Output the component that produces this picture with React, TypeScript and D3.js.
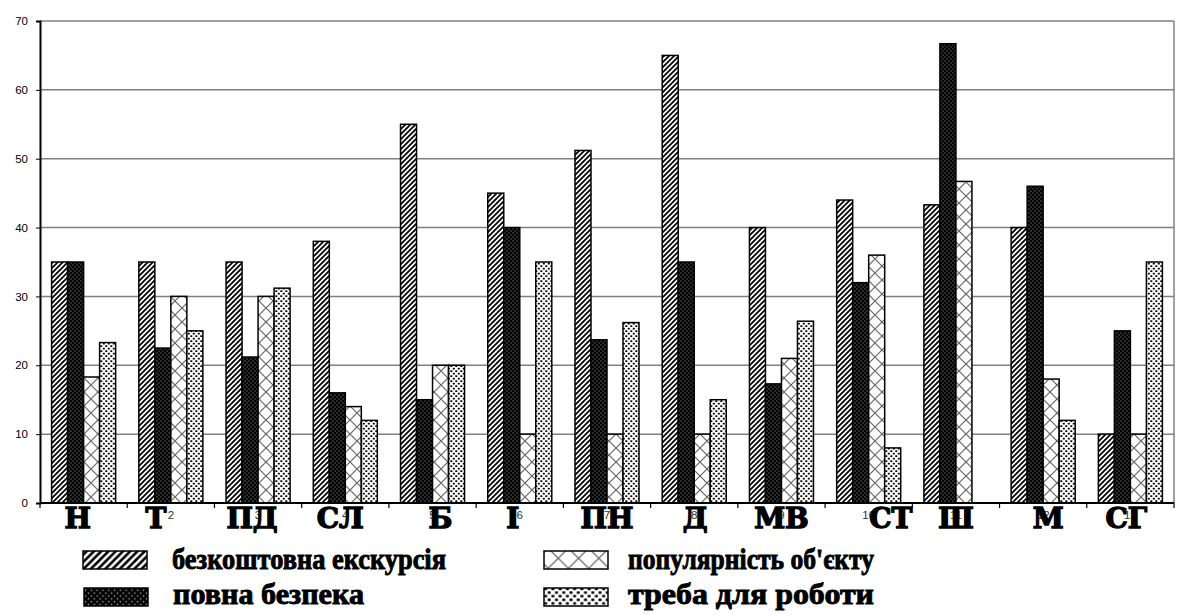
import React, { useEffect, useRef } from 'react';
import * as d3 from 'd3';

// Data
const categories = ['Н', 'Т', 'ПД', 'СЛ', 'Б', 'І', 'ПН', 'Д', 'МВ', 'СТ', 'Ш', 'М', 'СГ'];
const categoryNumbers = ['1', '2', '3', '4', '5', '6', '7', '8', '9', '10', '11', '12', '13'];
const seriesNames = ['безкоштовна екскурсія', 'повна безпека', "популярність об'єкту", 'треба для роботи'];
const freeTour = [35, 35, 35, 38, 55, 45, 51.2, 65, 40, 44, 43.3, 40, 10];
const fullSafety = [35, 22.5, 21.2, 16, 15, 40, 23.7, 35, 17.3, 32, 66.7, 46, 25];
const popularity = [18.3, 30, 30, 14, 20, 10, 10, 10, 21, 36, 46.7, 18, 10];
const neededForWork = [23.3, 25, 31.2, 12, 20, 35, 26.2, 15, 26.4, 8, 0, 12, 35];
const yTicks = [0, 10, 20, 30, 40, 50, 60, 70];

// small hand nudges for the big category letters (layout only)
const labelNudge = [-6, -15, -6, -5, 8, -7, 0, 1, 0, 22, 0, 5, -4];

const W = 1181;
const H = 615;
const SANS = '"Liberation Sans", Arial, sans-serif';
const SERIF = '"Liberation Serif", "Times New Roman", serif';
const WIDE_SERIF = '"DejaVu Serif", serif';

function App() {
    const svgRef = useRef<SVGSVGElement>(null);

    useEffect(() => {
        const series = [freeTour, fullSafety, popularity, neededForWork];
        const patternIds = ['p-stripe', 'p-dark', 'p-cross', 'p-confetti'];
        const legendPatternIds = ['l-stripe', 'l-dark', 'l-cross', 'l-confetti'];

        const root = d3.select(svgRef.current);
        root.selectAll('*').remove();
        root.attr('width', W).attr('height', H);

        const margin = { top: 21, right: 7, bottom: 112, left: 40 };
        const x0 = margin.left;
        const x1 = W - margin.right;
        const yTop = margin.top;
        const yBottom = H - margin.bottom;

        // Patterns
        const defs = root.append('defs');
        const makePatterns = (ids: string[], k: number) => {
            const s = defs.append('pattern').attr('id', ids[0])
                .attr('patternUnits', 'userSpaceOnUse').attr('width', 5 * k).attr('height', 5 * k);
            s.append('rect').attr('width', 5 * k).attr('height', 5 * k).attr('fill', '#fff');
            s.append('path').attr('d', `M${-1 * k},${1 * k} l${2 * k},${-2 * k} M0,${5 * k} l${5 * k},${-5 * k} M${4 * k},${6 * k} l${2 * k},${-2 * k}`)
                .attr('stroke', '#000').attr('stroke-width', 1.8 * k);

            const d = defs.append('pattern').attr('id', ids[1])
                .attr('patternUnits', 'userSpaceOnUse').attr('width', 4 * k).attr('height', 4 * k);
            d.append('rect').attr('width', 4 * k).attr('height', 4 * k).attr('fill', '#000');
            d.append('rect').attr('x', 0.5 * k).attr('y', 0.5 * k).attr('width', 1 * k).attr('height', 1 * k).attr('fill', '#aaa');
            d.append('rect').attr('x', 2.5 * k).attr('y', 2.5 * k).attr('width', 1 * k).attr('height', 1 * k).attr('fill', '#aaa');

            const cs = 14 * k;
            const c = defs.append('pattern').attr('id', ids[2])
                .attr('patternUnits', 'userSpaceOnUse').attr('width', cs).attr('height', cs);
            c.append('rect').attr('width', cs).attr('height', cs).attr('fill', '#fff');
            c.append('path').attr('d', `M0,0 L${cs},${cs} M${cs},0 L0,${cs}`)
                .attr('stroke', '#666').attr('stroke-width', 1.2);

            const f = defs.append('pattern').attr('id', ids[3])
                .attr('patternUnits', 'userSpaceOnUse').attr('width', 5 * k).attr('height', 5 * k);
            f.append('rect').attr('width', 5 * k).attr('height', 5 * k).attr('fill', '#fff');
            f.append('rect').attr('x', 0.3 * k).attr('y', 0.3 * k).attr('width', 2 * k).attr('height', 1.7 * k).attr('fill', '#000');
            f.append('rect').attr('x', 2.8 * k).attr('y', 2.8 * k).attr('width', 2 * k).attr('height', 1.7 * k).attr('fill', '#000');
        };
        makePatterns(patternIds, 1);
        makePatterns(legendPatternIds, 1.45);

        // Scales
        const x = d3.scaleBand<string>()
            .domain(categories)
            .range([x0, x1]);
        const groupW = x.bandwidth() * 0.734;
        const xs = d3.scaleBand<number>()
            .domain(d3.range(series.length))
            .range([(x.bandwidth() - groupW) / 2, (x.bandwidth() + groupW) / 2]);
        const y = d3.scaleLinear()
            .domain([0, 70])
            .range([yBottom, yTop]);

        // Grid lines
        root.append('g')
            .selectAll('line')
            .data(yTicks.filter(t => t > 0))
            .join('line')
            .attr('x1', x0).attr('x2', x1)
            .attr('y1', d => y(d)).attr('y2', d => y(d))
            .attr('stroke', '#808080').attr('stroke-width', 1.5);
        root.append('line')
            .attr('x1', x1).attr('x2', x1).attr('y1', yTop).attr('y2', yBottom)
            .attr('stroke', '#808080').attr('stroke-width', 1.5);

        // Bars
        const barData = categories.flatMap((c, i) =>
            series.map((s, j) => ({ c, j, v: s[i] })).filter(d => d.v > 0));
        root.append('g')
            .selectAll('rect')
            .data(barData)
            .join('rect')
            .attr('x', d => (x(d.c) as number) + (xs(d.j) as number))
            .attr('y', d => y(d.v))
            .attr('width', xs.bandwidth())
            .attr('height', d => y(0) - y(d.v))
            .attr('fill', d => `url(#${patternIds[d.j]})`)
            .attr('stroke', '#000')
            .attr('stroke-width', 1.5);

        // Y axis
        const yAxis = root.append('g')
            .attr('transform', `translate(${x0},0)`)
            .call(d3.axisLeft(y).tickValues(yTicks).tickSize(4).tickPadding(8));
        yAxis.select('.domain').attr('stroke', '#000').attr('stroke-width', 2);
        yAxis.selectAll('.tick line').attr('stroke', '#000');
        yAxis.selectAll('text')
            .style('font-family', SANS)
            .style('font-size', '11.5px')
            .attr('fill', '#000');

        // X axis line and ticks between categories
        root.append('line')
            .attr('x1', x0).attr('x2', x1).attr('y1', yBottom).attr('y2', yBottom)
            .attr('stroke', '#000').attr('stroke-width', 2);
        root.append('g')
            .selectAll('line')
            .data(d3.range(categories.length + 1))
            .join('line')
            .attr('x1', i => x0 + i * x.step()).attr('x2', i => x0 + i * x.step())
            .attr('y1', yBottom).attr('y2', yBottom + 5)
            .attr('stroke', '#000').attr('stroke-width', 1.2);

        // Small category numbers
        root.append('g')
            .selectAll('text')
            .data(categoryNumbers)
            .join('text')
            .attr('x', (d, i) => (x(categories[i]) as number) + x.bandwidth() / 2)
            .attr('y', yBottom + 16)
            .attr('text-anchor', 'middle')
            .style('font-family', SANS)
            .style('font-size', '11.5px')
            .attr('fill', '#333')
            .text(d => d);

        // Big category letters
        root.append('g')
            .selectAll('text')
            .data(categories)
            .join('text')
            .attr('x', (d, i) => (x(d) as number) + x.bandwidth() / 2 + labelNudge[i])
            .attr('y', yBottom + 25)
            .attr('text-anchor', 'middle')
            .style('font-family', WIDE_SERIF)
            .style('font-weight', 'bold')
            .style('font-size', '28px')
            .attr('fill', '#000')
            .attr('stroke', '#000')
            .attr('stroke-width', 1.4)
            .text(d => d);

        // Legend
        const legendItems = [
            { i: 0, sx: 83, sy: 551, tx: 172, ty: 569, tl: 274 },
            { i: 1, sx: 84, sy: 588, tx: 173, ty: 604, tl: 191 },
            { i: 2, sx: 544, sy: 551, tx: 628, ty: 569, tl: 246 },
            { i: 3, sx: 544, sy: 588, tx: 628, ty: 604, tl: 246 },
        ];
        const legend = root.append('g');
        legendItems.forEach(it => {
            legend.append('rect')
                .attr('x', it.sx).attr('y', it.sy)
                .attr('width', 64).attr('height', 18)
                .attr('fill', `url(#${legendPatternIds[it.i]})`)
                .attr('stroke', '#000').attr('stroke-width', 1.5);
            legend.append('text')
                .attr('x', it.tx).attr('y', it.ty)
                .style('font-family', SERIF)
                .style('font-weight', 'bold')
                .style('font-size', '29px')
                .attr('textLength', it.tl)
                .attr('lengthAdjust', 'spacingAndGlyphs')
                .attr('fill', '#000')
                .attr('stroke', '#000')
                .attr('stroke-width', 0.9)
                .text(seriesNames[it.i]);
        });
    }, []);

    return (
        <div style={{ position: 'absolute', left: 0, top: 0 }}>
            <svg ref={svgRef} style={{ display: 'block' }}></svg>
        </div>
    );
}

export default App;
